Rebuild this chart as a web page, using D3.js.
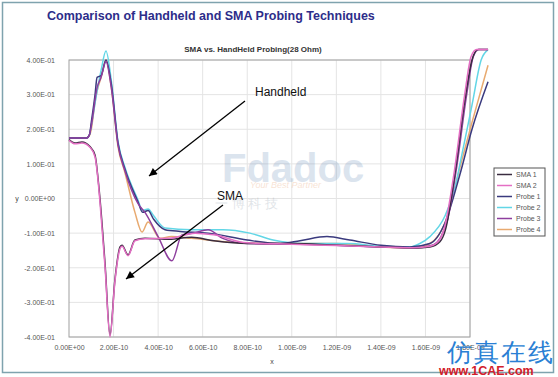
<html>
<head>
<script src="https://d3js.org/d3.v7.min.js"></script>
<style>
  body { margin: 0; background: #fff; }
  svg text { font-family: Arial, "Liberation Sans", sans-serif; }
</style>
</head>
<body>
<svg id="chart" width="558" height="377"></svg>
<script>
// time in units of 1E-10 s, value in volts
var seriesNames = ["SMA 1", "SMA 2", "Probe 1", "Probe 2", "Probe 3", "Probe 4"];
var seriesColors = ["#3a2c40", "#e46fc4", "#3a3a7e", "#62d6e6", "#8e3f9e", "#e8aa70"];

var sma1 = [[0,0.17],[0.27,0.16],[0.58,0.163],[0.94,0.15],[1.17,0.125],[1.3,0.06],[1.39,0.0],[1.62,-0.19],[1.84,-0.395],[2.06,-0.235],[2.29,-0.14],[2.38,-0.135],[2.65,-0.163],[2.96,-0.12],[3.41,-0.115],[4.5,-0.118],[5.5,-0.112],[6.5,-0.122],[8,-0.13],[10,-0.13],[12,-0.135],[14,-0.14],[15.5,-0.143],[16.2,-0.14],[16.65,-0.125],[16.9,-0.09],[17.32,0.07],[17.77,0.285],[18.09,0.4],[18.36,0.43],[18.81,0.43]];
var sma2 = [[0,0.168],[0.27,0.158],[0.58,0.16],[0.94,0.148],[1.17,0.12],[1.3,0.055],[1.39,-0.01],[1.62,-0.2],[1.84,-0.4],[2.06,-0.24],[2.29,-0.145],[2.38,-0.138],[2.65,-0.165],[2.96,-0.122],[3.41,-0.116],[4.5,-0.115],[5.66,-0.1],[6.5,-0.105],[8,-0.128],[10,-0.132],[12,-0.136],[14,-0.14],[15.5,-0.142],[16.2,-0.138],[16.6,-0.122],[16.85,-0.085],[17.3,0.08],[17.75,0.295],[18.05,0.41],[18.3,0.43],[18.81,0.43]];
var probe1 = [[0,0.175],[0.8,0.175],[0.92,0.185],[1.0,0.22],[1.17,0.3],[1.26,0.35],[1.44,0.355],[1.66,0.4],[1.9,0.33],[2.2,0.16],[2.51,0.085],[3.1,-0.01],[3.3,-0.04],[3.55,-0.035],[3.8,-0.06],[4.31,-0.09],[5,-0.095],[6.24,-0.1],[8,-0.12],[9.5,-0.13],[10.37,-0.122],[11.58,-0.11],[12.6,-0.12],[14,-0.135],[15.3,-0.14],[16.2,-0.13],[16.88,-0.07],[17.55,0.07],[18.09,0.2],[18.81,0.337]];
var probe2 = [[0,0.175],[0.8,0.175],[0.92,0.185],[1.0,0.21],[1.26,0.31],[1.44,0.37],[1.66,0.426],[1.9,0.34],[2.2,0.165],[2.51,0.09],[3.1,-0.005],[3.3,-0.035],[3.55,-0.03],[3.8,-0.05],[4.31,-0.085],[5.5,-0.09],[6.91,-0.09],[8.12,-0.1],[9.16,-0.12],[10.5,-0.13],[12.5,-0.13],[14,-0.138],[15.3,-0.14],[15.75,-0.13],[16.2,-0.11],[16.88,-0.05],[17.32,0.03],[17.55,0.1],[18.09,0.27],[18.5,0.4],[18.81,0.43]];
var probe3 = [[0,0.175],[0.8,0.175],[0.92,0.185],[1.0,0.21],[1.26,0.32],[1.44,0.35],[1.66,0.395],[1.9,0.32],[2.2,0.155],[2.51,0.08],[3.1,-0.015],[3.41,-0.04],[4.0,-0.11],[4.62,-0.18],[5.07,-0.105],[5.6,-0.1],[6.24,-0.09],[6.9,-0.115],[8,-0.13],[10,-0.132],[12,-0.135],[14,-0.14],[15.5,-0.143],[16.3,-0.135],[16.7,-0.11],[17.0,-0.06],[17.4,0.09],[17.85,0.3],[18.15,0.41],[18.4,0.43],[18.81,0.43]];
var probe4 = [[0,0.175],[0.8,0.175],[0.92,0.182],[1.0,0.2],[1.17,0.28],[1.26,0.31],[1.44,0.35],[1.66,0.4],[1.9,0.32],[2.2,0.15],[2.51,0.075],[2.96,-0.04],[3.28,-0.097],[3.55,-0.068],[4.08,-0.115],[4.6,-0.11],[5.5,-0.115],[7,-0.125],[9,-0.13],[12,-0.13],[14,-0.14],[15.5,-0.143],[16.2,-0.13],[16.88,-0.07],[17.55,0.09],[18.09,0.22],[18.81,0.385]];
var seriesData = [sma1, sma2, probe1, probe2, probe3, probe4];

var xTicks = [0, 2, 4, 6, 8, 10, 12, 14, 16, 18];
var yTicks = [-0.4, -0.3, -0.2, -0.1, 0, 0.1, 0.2, 0.3, 0.4];

var svg = d3.select("#chart");

function sci(v) {
  var s = v.toExponential(2).toUpperCase();
  var m = s.split("E");
  var e = parseInt(m[1], 10);
  var es = (e < 0 ? "-" : "+") + (Math.abs(e) < 10 ? "0" : "") + Math.abs(e);
  return m[0] + "E" + es;
}

var pLeft = 69, pRight = 470, pTop = 60, pBottom = 337;
var x = d3.scaleLinear().domain([0, 18]).range([pLeft, pRight]);
var y = d3.scaleLinear().domain([-0.4, 0.4]).range([pBottom, pTop]);

// outer frame
svg.append("rect").attr("x", 2.5).attr("y", 2.5).attr("width", 551).attr("height", 370)
  .attr("fill", "#fff").attr("stroke", "#7fa3ae").attr("stroke-width", 1.5);

svg.append("text").attr("x", 47).attr("y", 20)
  .attr("font-size", 12.5).attr("font-weight", "bold").attr("fill", "#2d2d8a")
  .text("Comparison of Handheld and SMA Probing Techniques");

svg.append("text").attr("x", 253).attr("y", 52).attr("text-anchor", "middle")
  .attr("font-size", 8).attr("font-weight", "bold").attr("fill", "#333")
  .text("SMA vs. HandHeld Probing(28 Ohm)");

// grid
var grid = svg.append("g");
grid.selectAll(".gx").data(xTicks.slice(1)).enter().append("line")
  .attr("x1", d => x(d)).attr("x2", d => x(d)).attr("y1", pTop).attr("y2", pBottom)
  .attr("stroke", "#e4e4e4");
grid.selectAll(".gy").data(yTicks).enter().append("line")
  .attr("x1", pLeft).attr("x2", pRight).attr("y1", d => y(d)).attr("y2", d => y(d))
  .attr("stroke", "#e4e4e4");

svg.append("rect").attr("x", pLeft).attr("y", pTop).attr("width", pRight - pLeft).attr("height", pBottom - pTop)
  .attr("fill", "none").attr("stroke", "#a0a0a0");

// axes
var ya = svg.append("g").attr("transform", "translate(" + pLeft + ",0)")
  .call(d3.axisLeft(y).tickValues(yTicks).tickFormat(sci).tickSize(0).tickPadding(14));
var xa = svg.append("g").attr("transform", "translate(0," + pBottom + ")")
  .call(d3.axisBottom(x).tickValues(xTicks).tickFormat(d => sci(d * 1e-10)).tickSize(0).tickPadding(8));
[ya, xa].forEach(function (a) {
  a.select(".domain").remove();
  a.selectAll("text").attr("font-size", 7).attr("fill", "#555").attr("font-family", "Arial, sans-serif");
});

svg.append("text").attr("x", 17).attr("y", 200.5).attr("font-size", 7).attr("fill", "#444").attr("text-anchor", "middle").text("y");
svg.append("text").attr("x", 272).attr("y", 364).attr("font-size", 7).attr("fill", "#444").attr("text-anchor", "middle").text("x");

// faint watermark
var wm = svg.append("g").attr("opacity", 0.22);
wm.append("text").attr("x", 222).attr("y", 182).attr("font-size", 40).attr("font-weight", "bold")
  .attr("fill", "#5f86b5").text("Fdadoc");
wm.append("text").attr("x", 250).attr("y", 188).attr("font-size", 9).attr("font-style", "italic")
  .attr("fill", "#e08040").text("Your Best Partner");
wm.append("text").attr("x", 215).attr("y", 208).attr("font-size", 13)
  .attr("fill", "#789").text("\u4e00   \u535a   \u79d1   \u6280");

// lines
var line = d3.line().x(d => x(d[0])).y(d => y(d[1])).curve(d3.curveMonotoneX);
var order = [5, 3, 2, 4, 0, 1];
svg.append("g").selectAll("path").data(order).enter().append("path")
  .attr("d", i => line(seriesData[i]))
  .attr("fill", "none").attr("stroke", i => seriesColors[i]).attr("stroke-width", 1.5);

// annotations
var defs = svg.append("defs");
defs.append("marker").attr("id", "arr").attr("viewBox", "0 0 10 10").attr("refX", 10).attr("refY", 5)
  .attr("markerWidth", 12).attr("markerHeight", 8).attr("markerUnits", "userSpaceOnUse").attr("orient", "auto")
  .append("path").attr("d", "M0,0L10,5L0,10Z").attr("fill", "#000");

svg.append("line").attr("x1", 245).attr("y1", 101).attr("x2", 149).attr("y2", 176)
  .attr("stroke", "#000").attr("stroke-width", 1.3).attr("marker-end", "url(#arr)");
svg.append("line").attr("x1", 223).attr("y1", 205).attr("x2", 126).attr("y2", 279)
  .attr("stroke", "#000").attr("stroke-width", 1.3).attr("marker-end", "url(#arr)");
svg.append("text").attr("x", 255).attr("y", 96).attr("font-size", 12).attr("fill", "#111").text("Handheld");
svg.append("text").attr("x", 217).attr("y", 200).attr("font-size", 12).attr("fill", "#111").text("SMA");

// legend
var lg = svg.append("g");
lg.append("rect").attr("x", 494).attr("y", 168).attr("width", 51).attr("height", 68)
  .attr("fill", "#fff").attr("stroke", "#555");
var items = lg.selectAll(".li").data(seriesNames).enter().append("g")
  .attr("transform", (d, i) => "translate(0," + (174.5 + i * 11) + ")");
items.append("line").attr("x1", 497).attr("x2", 512).attr("stroke", (d, i) => seriesColors[i]).attr("stroke-width", 1.5);
items.append("text").attr("x", 516).attr("y", 2.5).attr("font-size", 7).attr("fill", "#555").text(d => d);

// site watermark
svg.append("text").attr("x", 447).attr("y", 361).attr("font-size", 25).attr("fill", "#2a7fd4")
  .attr("font-family", "'Noto Sans CJK SC', sans-serif").attr("letter-spacing", 2).text("\u4eff\u771f\u5728\u7ebf");
svg.append("text").attr("x", 439).attr("y", 375).attr("font-size", 12.5).attr("font-weight", "bold")
  .attr("fill", "#d2202a").text("www.1CAE.com");
</script>
</body>
</html>
